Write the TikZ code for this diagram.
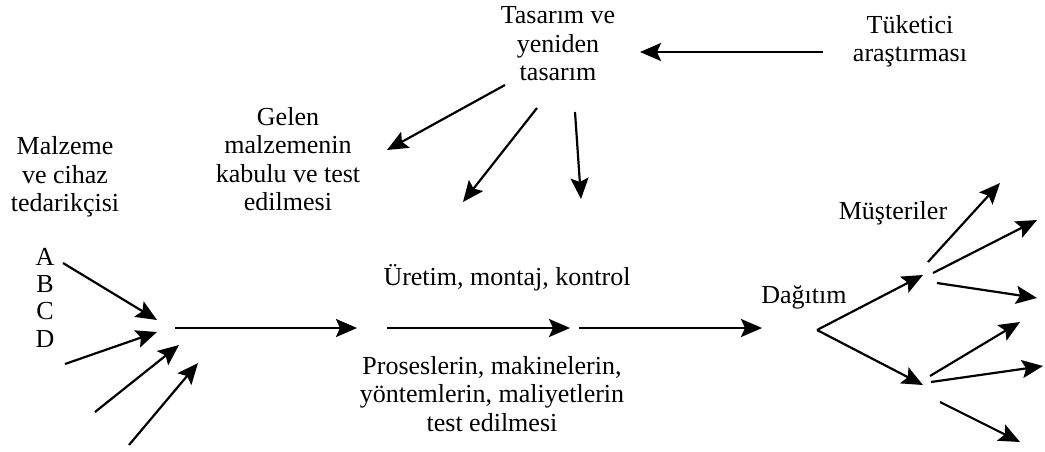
\documentclass[tikz,border=0pt]{standalone}
\usepackage{fontspec}
\setmainfont{Liberation Serif}
\usetikzlibrary{arrows.meta}
\begin{document}
\begin{tikzpicture}[x=1pt,y=-1pt,
  lbl/.style={inner sep=0pt, align=center, font=\fontsize{26}{28.5}\selectfont},
  arr/.style={line width=2.2pt, -{Stealth[length=21pt,width=18pt,inset=4pt]}}]
\useasboundingbox (0,0) rectangle (1045,451);

% text labels
\node[lbl] (tasarim) at (558,44) {Tasarım ve\\yeniden\\tasarım};
\node[lbl] (tuketici) at (910,41) {Tüketici\\araştırması};
\node[lbl] (gelen) at (288,159) {Gelen\\malzemenin\\kabulu ve test\\edilmesi};
\node[lbl] (malzeme) at (65,177) {Malzeme\\ve cihaz\\tedarikçisi};
\node[lbl] (A) at (45,257) {A};
\node[lbl] (B) at (45,284) {B};
\node[lbl] (C) at (45,311) {C};
\node[lbl] (D) at (45,339) {D};
\node[lbl] (uretim) at (507,278) {Üretim, montaj, kontrol};
\node[lbl] (proses) at (492,394) {Proseslerin, makinelerin,\\yöntemlerin, maliyetlerin\\test edilmesi};
\node[lbl] (dagitim) at (804,297) {Dağıtım};
\node[lbl] (musteriler) at (893,213) {Müşteriler};

% arrow end points
\coordinate (tkS) at (823,52);  \coordinate (tkE) at (640,52);
\coordinate (g1S) at (505,85);  \coordinate (g1E) at (387,150);
\coordinate (g2S) at (537,108); \coordinate (g2E) at (463,202);
\coordinate (g3S) at (575,112); \coordinate (g3E) at (581,199);
\coordinate (s1S) at (63,263);  \coordinate (s1E) at (157,320);
\coordinate (s2S) at (65,364);  \coordinate (s2E) at (157,332);
\coordinate (s3S) at (95,412);  \coordinate (s3E) at (179,345);
\coordinate (s4S) at (129,445); \coordinate (s4E) at (198,363);
\coordinate (m1S) at (175,328); \coordinate (m1E) at (357,328);
\coordinate (m2S) at (387,328); \coordinate (m2E) at (570,328);
\coordinate (m3S) at (579,328); \coordinate (m3E) at (762,328);
\coordinate (fork) at (817,330);
\coordinate (hubU) at (923,275); \coordinate (hubL) at (923,385);
\coordinate (aS) at (928,262); \coordinate (aE) at (1000,183);
\coordinate (bS) at (933,273); \coordinate (bE) at (1037,220);
\coordinate (cS) at (937,283); \coordinate (cE) at (1037,298);
\coordinate (dS) at (930,376); \coordinate (dE) at (1020,322);
\coordinate (eS) at (931,382); \coordinate (eE) at (1043,366);
\coordinate (fS) at (940,402); \coordinate (fE) at (1020,442);

% design branch
\draw[arr] (tkS) -- (tkE);
\draw[arr] (g1S) -- (g1E);
\draw[arr] (g2S) -- (g2E);
\draw[arr] (g3S) -- (g3E);

% suppliers
\draw[arr] (s1S) -- (s1E);
\draw[arr] (s2S) -- (s2E);
\draw[arr] (s3S) -- (s3E);
\draw[arr] (s4S) -- (s4E);

% main flow
\draw[arr] (m1S) -- (m1E);
\draw[arr] (m2S) -- (m2E);
\draw[arr] (m3S) -- (m3E);

% distribution
\draw[arr] (fork) -- (hubU);
\draw[arr] (fork) -- (hubL);
\draw[arr] (aS) -- (aE);
\draw[arr] (bS) -- (bE);
\draw[arr] (cS) -- (cE);
\draw[arr] (dS) -- (dE);
\draw[arr] (eS) -- (eE);
\draw[arr] (fS) -- (fE);
\end{tikzpicture}
\end{document}
